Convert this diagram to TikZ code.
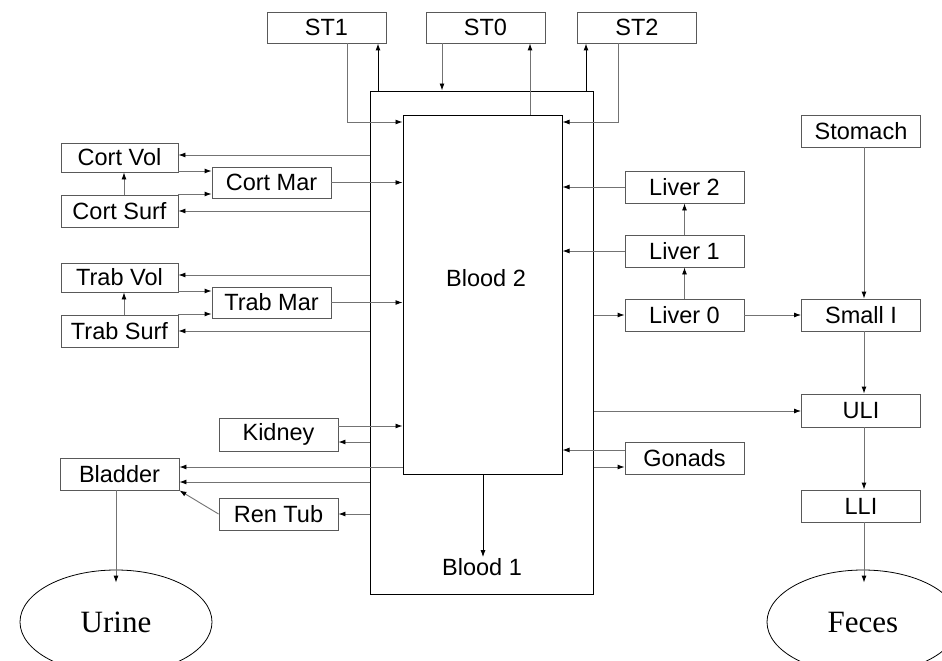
\documentclass[tikz,border=0pt]{standalone}
\usepackage{fontspec}
\setmainfont{Liberation Sans}
\newfontfamily\serifont{Liberation Serif}
\usetikzlibrary{arrows.meta,shapes.geometric}
\definecolor{lgray}{gray}{0.45}
\definecolor{bgray}{gray}{0.35}
\tikzset{
  box/.style={draw=bgray,line width=0.9pt,rectangle,minimum width=119pt,minimum height=32pt,inner sep=0pt,font=\fontsize{23.5}{25}\selectfont},
  big/.style={draw=black,line width=1pt,rectangle,inner sep=0pt},
  oval/.style={draw=black,line width=0.8pt,ellipse,minimum width=192pt,minimum height=104pt,inner sep=0pt,font=\serifont\fontsize{31}{33}\selectfont},
  lbl/.style={inner sep=1pt,font=\fontsize{23.5}{25}\selectfont},
  arr/.style={draw=lgray,line width=0.9pt,-{Latex[length=7pt,width=5pt,color=black]}},
  arrb/.style={draw=black,line width=1pt,-{Latex[length=7pt,width=5pt,color=black]}},
  ln/.style={draw=lgray,line width=0.9pt}
}
\begin{document}
\begin{tikzpicture}[x=1pt,y=-1pt]
\path[use as bounding box,clip] (0,0) rectangle (942,661);
\fill[white] (0,0) rectangle (942,661);
% big boxes
\node[big,minimum width=223pt,minimum height=503pt] (outer) at (481.5,342.5) {};
\node[big,minimum width=159pt,minimum height=359pt,fill=white] (inner) at (482.5,294.5) {};
\node[lbl] (blood2) at (486,278) {Blood 2};
\node[lbl] (blood1) at (482,567) {Blood 1};
% top
\node[box,minimum height=31pt] (st1) at (326.5,27.5) {ST1};
\node[box,minimum height=31pt] (st0) at (485.5,27.5) {ST0};
\node[box,minimum height=31pt] (st2) at (637,27.5) {ST2};
% left
\node[box,minimum width=117pt,minimum height=29pt] (cortvol) at (119.5,157.5) {Cort Vol};
\node[box,minimum height=31pt] (cortmar) at (271.5,182.5) {Cort Mar};
\node[box,minimum width=117pt,minimum height=32pt] (cortsurf) at (119.5,211) {Cort Surf};
\node[box,minimum width=117pt,minimum height=29pt] (trabvol) at (119.5,277.5) {Trab Vol};
\node[box,minimum height=31pt] (trabmar) at (271.5,302.5) {Trab Mar};
\node[box,minimum width=117pt,minimum height=32pt] (trabsurf) at (119.5,331) {Trab Surf};
\node[box,minimum height=33pt] (kidney) at (278.5,434.5) {Kidney};
\node[box] (bladder) at (119.5,474) {Bladder};
\node[box] (rentub) at (278.5,514) {Ren Tub};
\node[oval] (urine) at (116,622) {Urine};
% right
\node[box] (liver2) at (684.5,187) {Liver 2};
\node[box] (liver1) at (684.5,251) {Liver 1};
\node[box] (liver0) at (684.5,315) {Liver 0};
\node[box] (gonads) at (684.5,458) {Gonads};
\node[box] (stomach) at (861,131) {Stomach};
\node[box] (smalli) at (861,315) {Small I};
\node[box,minimum height=33pt] (uli) at (861,410.5) {ULI};
\node[box] (lli) at (861,506) {LLI};
\node[oval] (feces) at (863,622) {Feces};
% top connectors
\draw[arr] (347,0 |- st1.south) |- (inner.west |- 0,122);
\draw[arrb] (378,0 |- outer.north) -- (378,0 |- st1.south);
\draw[arr] (442,0 |- st0.south) -- (442,0 |- outer.north);
\draw[arr] (530,0 |- inner.north) -- (530,0 |- st0.south);
\draw[arrb] (586,0 |- outer.north) -- (586,0 |- st2.south);
\draw[arr] (618,0 |- st2.south) |- (inner.east |- 0,122);
% cortical
\draw[arr] (outer.west |- 0,155) -- (cortvol.east |- 0,155);
\draw[arr] (outer.west |- 0,211) -- (cortsurf.east |- 0,211);
\draw[arr] (cortvol.east |- 0,171) -- (cortmar.west |- 0,171);
\draw[arr] (cortsurf.east |- 0,194) -- (cortmar.west |- 0,194);
\draw[arr] (124,0 |- cortsurf.north) -- (124,0 |- cortvol.south);
\draw[arr] (cortmar.east) -- (inner.west |- cortmar.east);
% trabecular
\draw[arr] (outer.west |- 0,275) -- (trabvol.east |- 0,275);
\draw[arr] (outer.west |- 0,331) -- (trabsurf.east |- 0,331);
\draw[arr] (trabvol.east |- 0,291) -- (trabmar.west |- 0,291);
\draw[arr] (trabsurf.east |- 0,314) -- (trabmar.west |- 0,314);
\draw[arr] (124,0 |- trabsurf.north) -- (124,0 |- trabvol.south);
\draw[arr] (trabmar.east) -- (inner.west |- trabmar.east);
% kidney, bladder
\draw[arr] (kidney.east |- 0,426) -- (inner.west |- 0,426);
\draw[arr] (outer.west |- 0,442) -- (kidney.east |- 0,442);
\draw[arr] (inner.west |- 0,467) -- (bladder.east |- 0,467);
\draw[arr] (outer.west |- 0,482) -- (bladder.east |- 0,482);
\draw[arr] (outer.west |- rentub.east) -- (rentub.east);
\draw[arr] (rentub.west) -- (bladder.south east);
\draw[arr] (116,0 |- bladder.south) -- ([yshift=-13pt]116,0 |- urine.north);
% liver
\draw[arr] (liver2.west) -- (inner.east |- liver2.west);
\draw[arr] (liver1.west) -- (inner.east |- liver1.west);
\draw[arr] (outer.east |- liver0.west) -- (liver0.west);
\draw[arr] (liver0.north) -- (liver1.south);
\draw[arr] (liver1.north) -- (liver2.south);
\draw[arr] (liver0.east) -- (smalli.west);
% GI tract
\draw[arr] (864,0 |- stomach.south) -- (864,0 |- smalli.north);
\draw[arr] (864,0 |- smalli.south) -- (864,0 |- uli.north);
\draw[arr] (outer.east |- 0,411) -- (uli.west |- 0,411);
\draw[arr] (864,0 |- uli.south) -- (864,0 |- lli.north);
\draw[arr] (864,0 |- lli.south) -- ([yshift=-13pt]864,0 |- feces.north);
% gonads
\draw[arr] (gonads.west |- 0,450) -- (inner.east |- 0,450);
\draw[arr] (outer.east |- 0,467) -- (gonads.west |- 0,467);
% blood 2 -> blood 1
\draw[arrb] (483,0 |- inner.south) -- (483,0 |- blood1.north);
\end{tikzpicture}
\end{document}
